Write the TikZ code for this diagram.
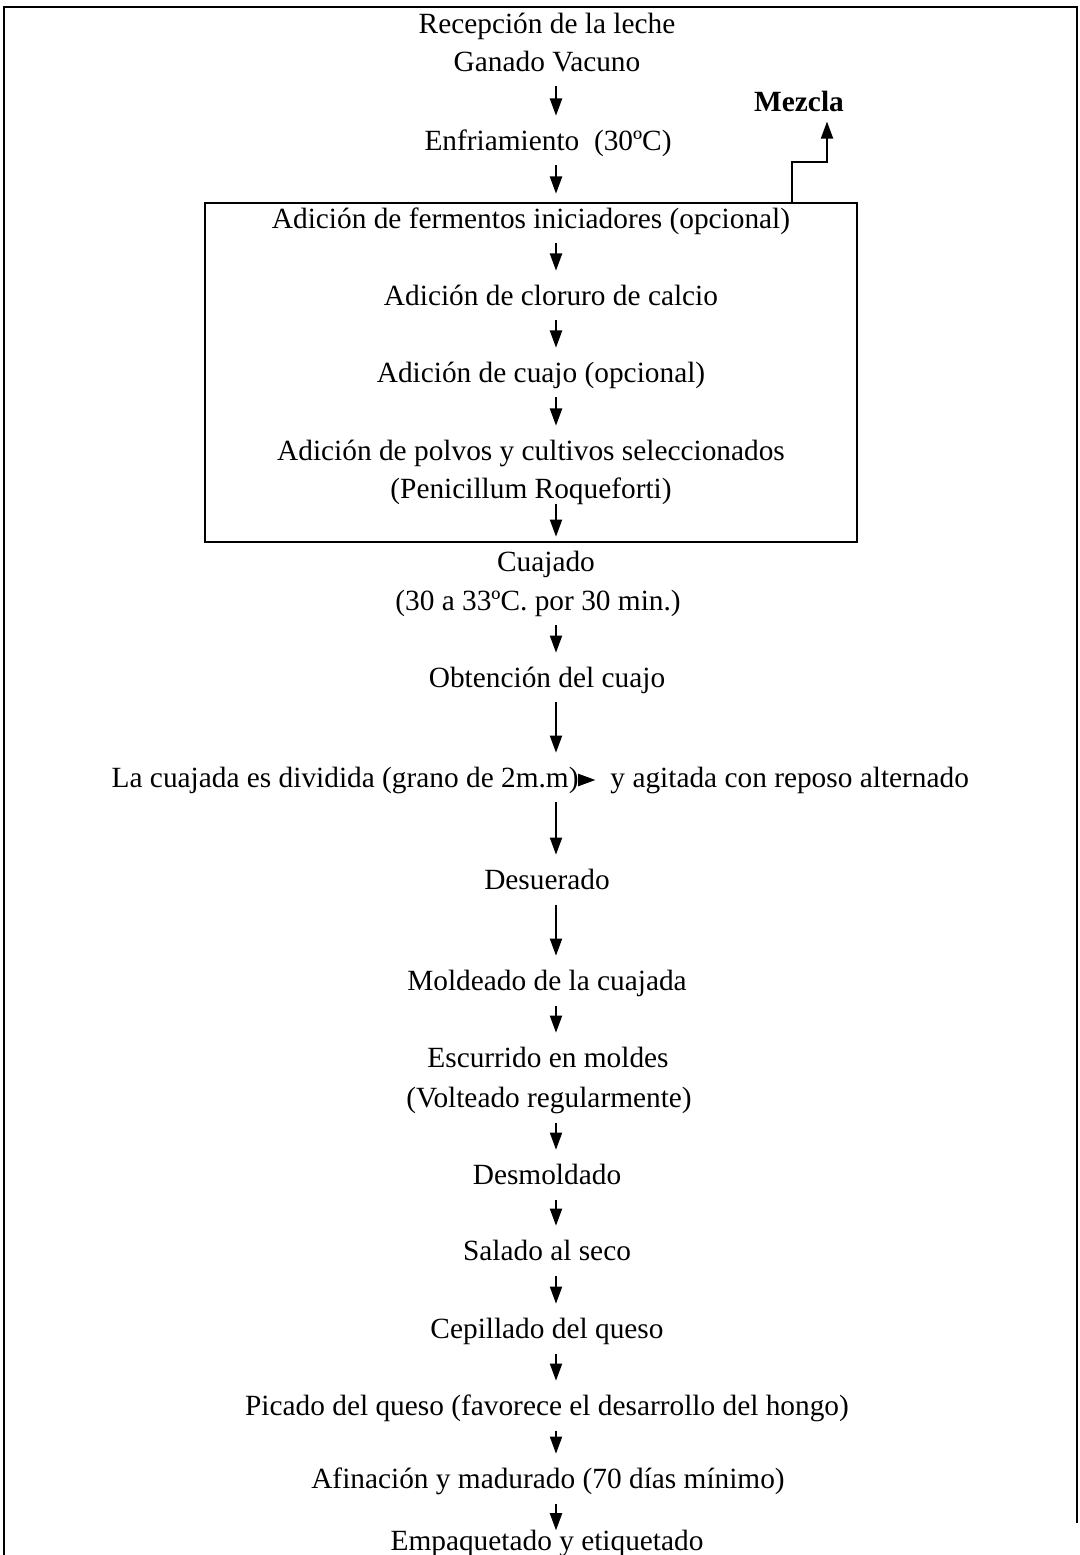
\documentclass[tikz,border=0pt]{standalone}
\usepackage{fontspec}
\setmainfont{Liberation Serif}
\usetikzlibrary{arrows.meta}

\begin{document}
\begin{tikzpicture}[x=0.409pt, y=-0.409pt,
    every node/.style={font=\fontsize{12}{14}\selectfont, inner sep=0pt, text height=8pt, text depth=2pt},
    flecha/.style={-{Triangle[width=5pt,length=7pt]}, line width=0.6pt, shorten <=4pt, shorten >=6pt}]

    \useasboundingbox (0,0) rectangle (1079,1555);

    % =====================================================
    % Frame and box
    % =====================================================
    \draw[line width=0.8pt] (4,1555) -- (4,7) -- (1077,7) -- (1077,1523);
    \draw[line width=0.8pt] (205,203) rectangle (857,542);

    % =====================================================
    % Steps
    % =====================================================
    \node (recep)   at (547,26)   {Recepción de la leche};
    \node (ganado)  at (547,64)   {Ganado Vacuno};
    \node (enfr)    at (548,143)  {Enfriamiento\ \ (30ºC)};

    \node (ferm)    at (531,221)  {Adición de fermentos iniciadores (opcional)};
    \node (clor)    at (551,298)  {Adición de cloruro de calcio};
    \node (cuajo)   at (541,375)  {Adición de cuajo (opcional)};
    \node (polvos)  at (531,453)  {Adición de polvos y cultivos seleccionados};
    \node (penic)   at (531,491)  {(Penicillum Roqueforti)};

    \node (cuajado) at (546,564)  {Cuajado};
    \node (temp)    at (538,603)  {(30 a 33ºC. por 30 min.)};
    \node (obt)     at (547,680)  {Obtención del cuajo};
    \node[anchor=east] (div)  at (579,780) {La cuajada es dividida (grano de 2m.m)};
    \node[anchor=west] (agit) at (610,780) {y agitada con reposo alternado};
    \node (desu)    at (547,882)  {Desuerado};
    \node (mold)    at (547,983)  {Moldeado de la cuajada};
    \node (escu)    at (548,1060) {Escurrido en moldes};
    \node (volt)    at (549,1100) {(Volteado regularmente)};
    \node (desm)    at (547,1177) {Desmoldado};
    \node (sal)     at (547,1253) {Salado al seco};
    \node (cepi)    at (547,1331) {Cepillado del queso};
    \node (pica)    at (547,1408) {Picado del queso (favorece el desarrollo del hongo)};
    \node (afin)    at (548,1481) {Afinación y madurado (70 días mínimo)};
    \node (empa)    at (547,1543) {Empaquetado y etiquetado};

    \node[font=\fontsize{12}{14}\selectfont\bfseries] (mezcla) at (799,104) {Mezcla};

    % =====================================================
    % Arrows
    % =====================================================
    \coordinate (ax) at (556,0);
    \foreach \a/\b in {ganado/enfr, enfr/ferm, ferm/clor, clor/cuajo, cuajo/polvos,
                       temp/obt, obt/div, div/desu, desu/mold, mold/escu,
                       volt/desm, desm/sal, sal/cepi, cepi/pica, pica/afin} {
        \draw[flecha] (ax |- \a.south) -- (ax |- \b.north);
    }
    \draw[flecha, shorten <=0pt] (ax |- penic.south) -- (ax |- cuajado.north);
    \draw[flecha, shorten >=0pt] (ax |- afin.south) -- (ax |- empa.north);

    \draw[flecha, shorten <=-1pt, shorten >=6pt] (div.east) -- (agit.west);

    \coordinate (salida) at (792,203);
    \coordinate (mzx) at (827,0);
    \draw[flecha, shorten <=0pt, shorten >=2pt] (salida) -- ++(0,-41) -| (mzx |- mezcla.south);

\end{tikzpicture}
\end{document}
